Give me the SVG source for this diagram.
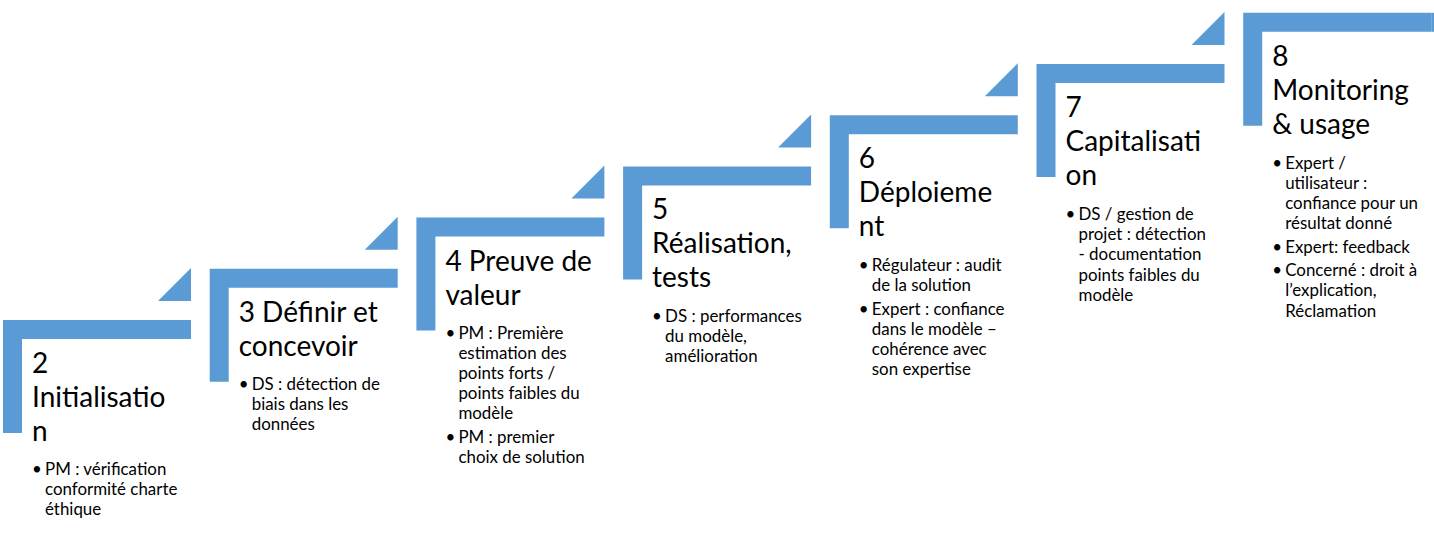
<svg xmlns="http://www.w3.org/2000/svg" width="1434" height="533" viewBox="0 0 1434 533">
<defs>
<style>
.bar{fill:#5B9BD5}
.tri{fill:#5B9BD5}
.t{font-family:Lato,"Liberation Sans",sans-serif;font-size:28px;fill:#000}
.b{font-family:Lato,"Liberation Sans",sans-serif;font-size:16.9px;fill:#000}
</style>
<path id="L" d="M0 0H188V19H19V113H0Z"/>
<path id="T" d="M155 -19H188V-52Z"/>
</defs>
<rect width="1434" height="533" fill="#fff"/>
<g id="step-2" transform="translate(3,320)">
<use href="#L" class="bar"/><use href="#T" class="tri"/>
<text class="t" x="29" y="53">2</text>
<text class="t" x="29" y="87">Initialisatio</text>
<text class="t" x="29" y="121">n</text>
<text class="b" x="29" y="155">•</text>
<text class="b" x="42" y="155">PM : vérification</text>
<text class="b" x="42" y="175.2">conformité charte</text>
<text class="b" x="42" y="195.4">éthique</text>
</g>
<g id="step-3" transform="translate(209.7,268.8)">
<use href="#L" class="bar"/><use href="#T" class="tri"/>
<text class="t" x="29" y="53">3 Définir et</text>
<text class="t" x="29" y="87">concevoir</text>
<text class="b" x="29" y="121">•</text>
<text class="b" x="42" y="121">DS : détection de</text>
<text class="b" x="42" y="141.2">biais dans les</text>
<text class="b" x="42" y="161.4">données</text>
</g>
<g id="step-4" transform="translate(416.4,217.6)">
<use href="#L" class="bar"/><use href="#T" class="tri"/>
<text class="t" x="29" y="53">4 Preuve de</text>
<text class="t" x="29" y="87">valeur</text>
<text class="b" x="29" y="121">•</text>
<text class="b" x="42" y="121">PM : Première</text>
<text class="b" x="42" y="141.2">estimation des</text>
<text class="b" x="42" y="161.4">points forts /</text>
<text class="b" x="42" y="181.6">points faibles du</text>
<text class="b" x="42" y="201.8">modèle</text>
<text class="b" x="29" y="225">•</text>
<text class="b" x="42" y="225">PM : premier</text>
<text class="b" x="42" y="245.2">choix de solution</text>
</g>
<g id="step-5" transform="translate(623.1,166.4)">
<use href="#L" class="bar"/><use href="#T" class="tri"/>
<text class="t" x="29" y="53">5</text>
<text class="t" x="29" y="87">Réalisation,</text>
<text class="t" x="29" y="121">tests</text>
<text class="b" x="29" y="155.5">•</text>
<text class="b" x="42" y="155.5">DS : performances</text>
<text class="b" x="42" y="175.7">du modèle,</text>
<text class="b" x="42" y="195.9">amélioration</text>
</g>
<g id="step-6" transform="translate(829.8,115.2)">
<use href="#L" class="bar"/><use href="#T" class="tri"/>
<text class="t" x="29" y="53">6</text>
<text class="t" x="29" y="87">Déploieme</text>
<text class="t" x="29" y="121">nt</text>
<text class="b" x="29" y="156">•</text>
<text class="b" x="42" y="156">Régulateur : audit</text>
<text class="b" x="42" y="176.2">de la solution</text>
<text class="b" x="29" y="199.4">•</text>
<text class="b" x="42" y="199.4">Expert : confiance</text>
<text class="b" x="42" y="219.6">dans le modèle –</text>
<text class="b" x="42" y="239.8">cohérence avec</text>
<text class="b" x="42" y="260">son expertise</text>
</g>
<g id="step-7" transform="translate(1036.5,64)">
<use href="#L" class="bar"/><use href="#T" class="tri"/>
<text class="t" x="29" y="53">7</text>
<text class="t" x="29" y="87">Capitalisati</text>
<text class="t" x="29" y="121">on</text>
<text class="b" x="29" y="156">•</text>
<text class="b" x="42" y="156">DS / gestion de</text>
<text class="b" x="42" y="176.2">projet : détection</text>
<text class="b" x="42" y="196.4">- documentation</text>
<text class="b" x="42" y="216.6">points faibles du</text>
<text class="b" x="42" y="236.8">modèle</text>
</g>
<g id="step-8" transform="translate(1243.2,12.8)">
<use href="#L" class="bar"/>
<rect x="188" y="0" width="10" height="19" class="bar"/>
<text class="t" x="29" y="53">8</text>
<text class="t" x="29" y="87">Monitoring</text>
<text class="t" x="29" y="121">&amp; usage</text>
<text class="b" x="29" y="156">•</text>
<text class="b" x="42" y="156">Expert /</text>
<text class="b" x="42" y="176.2">utilisateur :</text>
<text class="b" x="42" y="196.4">confiance pour un</text>
<text class="b" x="42" y="216.6">résultat donné</text>
<text class="b" x="29" y="240">•</text>
<text class="b" x="42" y="240">Expert: feedback</text>
<text class="b" x="29" y="263.4">•</text>
<text class="b" x="42" y="263.4">Concerné : droit à</text>
<text class="b" x="42" y="283.6">l’explication,</text>
<text class="b" x="42" y="303.8">Réclamation</text>
</g>
</svg>
